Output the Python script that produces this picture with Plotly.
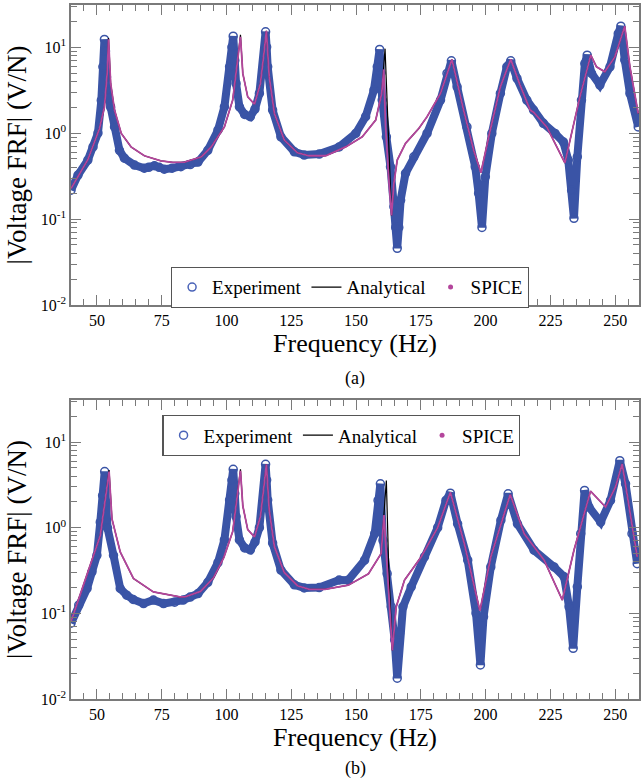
import plotly.graph_objects as go

# ---------------- data ----------------
# Panel (a)
exp_a_f = [40, 42.7, 46.5, 48.5, 50.4, 51.7, 52.3, 52.9, 53.3, 53.7, 54, 55.3, 56.8, 58.7, 60.6,
           64.5, 68.3, 70, 72.2, 74, 76, 79, 82.4, 86, 89, 92.8, 96.7, 99.2, 101.2, 102.1,
           102.6, 103.2, 103.7, 105, 107, 109.2, 111, 112.7, 114.4, 115.1, 115.5, 115.9, 117.8,
           121, 126.2, 130, 135.8, 143.5, 149.9, 153.7, 156.9, 158.2, 159.1, 159.6, 160.1,
           161.7, 163.3, 164.6, 165.3, 165.9, 166.5, 167.2, 169.1, 172.3, 177.4, 182.6, 185.1,
           186.8, 189, 192.8, 196, 197.3, 198.6, 199.9, 202.4, 205.7, 208.2, 209.7, 212.1,
           215.9, 218.5, 222.3, 226.8, 230, 231.9, 233.2, 234.1, 235.4, 237, 238.3, 239.2,
           240.9, 244.1, 248, 251.2, 252.2, 253.7, 255.7, 258.9]
exp_a_v = [0.217, 0.325, 0.485, 0.69, 1.0, 2.4, 5.9, 12.3, 9.0, 4.5, 3.16, 2.0, 1.18, 0.63, 0.51,
           0.425, 0.39, 0.40, 0.417, 0.40, 0.38, 0.39, 0.406, 0.43, 0.46, 0.63, 1.08, 2.02, 5.9, 10.0,
           13.4, 7.0, 3.78, 2.02, 1.65, 1.55, 1.9, 2.89, 7.07, 15.1, 10.0, 5.9, 1.85,
           0.906, 0.606, 0.555, 0.57, 0.69, 0.99, 1.55, 3.16, 5.9, 9.4, 5.0, 2.42,
           0.906, 0.405, 0.139, 0.08, 0.0457, 0.08, 0.166, 0.34, 0.53, 0.99, 2.42, 4.95,
           6.93, 3.45, 1.18, 0.405, 0.199, 0.08, 0.31, 0.99, 2.89, 5.9, 6.93, 4.33,
           2.42, 1.85, 1.30, 0.99, 0.79, 0.486, 0.217, 0.102, 0.53, 2.42, 6.45, 8.07,
           4.95, 3.62, 5.9, 14.4, 17.5, 7.07, 2.89, 1.18]

spice_a_f = [40, 46.5, 51, 51.65, 52.9, 53.96, 54.5, 55.3, 56.8, 59.4, 63.2, 68.3, 74.7, 79.3, 83.8,
             90.3, 94.1, 99.2, 102.4, 104.3, 105.4, 106.3, 108.2, 110.8, 113.1, 114.6, 115.4,
             116.5, 118.5, 122.3, 127.4, 131.9, 138.3, 146, 152.4, 157.6, 159.9, 160.7, 161.4,
             162.6, 163.7, 164.6, 165.9, 169.1, 174.2, 177.4, 182.6, 187, 191.5, 195.4, 198.2,
             201.2, 205.7, 209.7, 213.3, 217.2, 218.5, 223.6, 227.4, 230.6, 233.2, 236.4, 240.6,
             242.8, 246, 249.9, 252.4, 253.7, 255.7, 258.9]
spice_a_v = [0.227, 0.49, 1.13, 1.42, 2.0, 4.97, 12.3, 3.78, 1.85, 0.99, 0.69, 0.545, 0.476, 0.456, 0.46,
             0.53, 0.69, 1.18, 2.42, 7.07, 13.2, 4.95, 2.64, 2.17, 3.78, 9.2, 15.5,
             4.5, 1.69, 0.83, 0.59, 0.545, 0.545, 0.69, 0.906, 1.42, 2.89, 5.5, 1.2,
             0.3, 0.11, 0.26, 0.486, 0.76, 1.13, 1.55, 2.89, 7.2, 1.85, 0.63, 0.346,
             0.906, 3.45, 7.2, 3.62, 1.85, 1.75, 1.18, 0.69, 0.45, 1.0, 2.64, 8.07,
             5.9, 5.16, 7.7, 13.2, 17.5, 5.9, 1.69]

ana_a_f = [40, 46.5, 51, 51.65, 52.9, 53.96, 54.5, 55.3, 56.8, 59.4, 63.2, 68.3, 74.7, 79.3, 83.8,
           90.3, 94.1, 99.2, 102.4, 104.3, 105.4, 106.3, 108.2, 110.8, 113.1, 114.6, 115.4,
           116.5, 118.5, 122.3, 127.4, 131.9, 138.3, 146, 152.4, 157.6, 159.9, 161.2, 162.4,
           163.7, 164.6, 165.9, 169.1, 174.2, 177.4, 182.6, 187, 191.5, 195.4, 198.2, 201.2,
           205.7, 209.7, 213.3, 217.2, 218.5, 223.6, 227.4, 230.6, 233.2, 236.4, 240.6, 242.8,
           246, 249.9, 252.4, 253.7, 255.7, 258.9]
ana_a_v = [0.227, 0.49, 1.13, 1.42, 2.0, 4.97, 12.8, 3.78, 1.85, 0.99, 0.69, 0.545, 0.476, 0.456, 0.46,
           0.53, 0.69, 1.18, 2.42, 7.07, 13.9, 4.95, 2.64, 2.17, 3.78, 9.2, 15.5,
           4.5, 1.69, 0.83, 0.59, 0.545, 0.545, 0.69, 0.906, 1.42, 2.89, 9.6, 1.0,
           0.11, 0.26, 0.486, 0.76, 1.13, 1.55, 2.89, 7.2, 1.85, 0.63, 0.346, 0.906,
           3.45, 7.2, 3.62, 1.85, 1.75, 1.18, 0.69, 0.45, 1.0, 2.64, 8.07, 5.9,
           5.16, 7.7, 13.2, 17.5, 5.9, 1.69]

# Panel (b)
exp_b_f = [40, 43, 46.2, 48.1, 50, 51.3, 52.2, 53, 53.5, 54.1, 56.4, 59, 61.5, 64, 68, 71.8, 75.7,
           80, 83.3, 86, 89, 92.8, 96.7, 99.2, 101.2, 102.1, 102.6, 103.2, 103.7, 105, 107,
           109.2, 111, 112.7, 114.4, 115.1, 115.5, 115.9, 117.8, 121, 126.2, 130, 135.8, 143.5,
           147, 153.3, 157.2, 158.5, 159.4, 160.4, 162, 163.6, 164.9, 165.9, 166.8, 168.1,
           171.3, 176.4, 181.5, 184.7, 186.4, 189.2, 193.1, 196.3, 198, 199.2, 202, 205.9,
           208.7, 212.3, 218.7, 226.4, 230.3, 232.2, 233.8, 235.4, 236.7, 238.2, 239.9, 244.4,
           248.2, 251.8, 254, 256.5, 258.5]
exp_b_v = [0.0766, 0.125, 0.195, 0.305, 0.476, 1.16, 2.37, 4.52, 2.0, 0.99, 0.476, 0.195, 0.163,
           0.145, 0.13, 0.143, 0.13, 0.135, 0.143, 0.155, 0.17, 0.23, 0.39, 0.72, 2.1, 3.6, 4.8,
           2.5, 1.35, 0.72, 0.58, 0.55, 0.68, 1.0, 2.5, 5.5, 3.6, 2.1, 0.66, 0.32, 0.215, 0.198,
           0.2, 0.245, 0.244, 0.417, 0.85, 2.08, 3.25, 0.71, 0.29, 0.119, 0.049, 0.0175, 0.058,
           0.119, 0.204, 0.455, 1.0, 2.08, 2.53, 1.11, 0.417, 0.1, 0.025, 0.091, 0.348, 1.22,
           2.48, 1.11, 0.545, 0.348, 0.267, 0.119, 0.039, 0.204, 0.85, 2.72, 1.74, 1.16,
           2.08, 6.06, 3.25, 0.85, 0.38]

spice_b_f = [40, 51.3, 54.7, 55.8, 59, 64.1, 71.8, 82, 84, 90, 95, 99, 102.4, 104.3, 105.4, 106.3,
             108.2, 110.8, 113.1, 114.6, 115.4, 116.5, 118.5, 122.3, 127.4, 132, 138, 147, 154.8,
             159.7, 160.8, 161.5, 162.8, 164, 165.5, 168.7, 175.1, 181.5, 186.4, 191.8, 197.8,
             202, 209.5, 214.9, 222.6, 229.6, 234.1, 240.5, 246.3, 250.1, 252.7, 255.9, 258.5]
spice_b_v = [0.08, 0.81, 4.52, 1.27, 0.52, 0.255, 0.178, 0.156, 0.156, 0.18, 0.26, 0.45, 0.9, 2.5,
             4.6, 1.8, 0.95, 0.78, 1.35, 3.3, 5.5, 1.6, 0.6, 0.3, 0.21, 0.19, 0.19, 0.213, 0.29,
             0.5, 1.4, 0.6, 0.12, 0.037, 0.119, 0.244, 0.455, 1.0, 2.59, 0.65, 0.107,
             0.455, 2.44, 0.85, 0.417, 0.143, 0.545, 2.67, 1.74, 2.97, 5.55, 1.33, 0.455]

ana_b_f = [40, 51.3, 54.7, 55.8, 59, 64.1, 71.8, 82, 84, 90, 95, 99, 102.4, 104.3, 105.4, 106.3,
           108.2, 110.8, 113.1, 114.6, 115.4, 116.5, 118.5, 122.3, 127.4, 132, 138, 147, 154.8,
           159.7, 161.7, 162.6, 164, 165.5, 168.7, 175.1, 181.5, 186.4, 191.8, 197.8, 202,
           209.5, 214.9, 222.6, 229.6, 234.1, 240.5, 246.3, 250.1, 252.7, 255.9, 258.5]
ana_b_v = [0.08, 0.81, 4.7, 1.27, 0.52, 0.255, 0.178, 0.156, 0.156, 0.18, 0.26, 0.45, 0.9, 2.5,
           4.8, 1.8, 0.95, 0.78, 1.35, 3.3, 5.5, 1.6, 0.6, 0.3, 0.21, 0.19, 0.19, 0.213, 0.29,
           0.5, 3.55, 0.348, 0.037, 0.119, 0.244, 0.455, 1.0, 2.59, 0.65, 0.107, 0.455,
           2.44, 0.85, 0.417, 0.143, 0.545, 2.67, 1.74, 2.97, 5.55, 1.33, 0.455]

y_tickvals = [0.01, 0.1, 1, 10]
y_ticktext = ["10<sup>-2</sup>", "10<sup>-1</sup>", "10<sup>0</sup>", "10<sup>1</sup>"]
y_minorvals = [m * d for d in (0.01, 0.1, 1, 10) for m in range(2, 10)]
x_tickvals = [50, 75, 100, 125, 150, 175, 200, 225, 250]
x_minorvals = list(range(40, 261, 5))

BLUE = "#3a54a6"
BLUE_LEG = "#4a63b8"
MAGENTA = "#b4469c"
FONT = "serif"

fig = go.Figure()


def add_panel(xa, ya, leg, ef, ev, af, av, sf, sv):
    fig.add_trace(go.Scatter(x=ef, y=ev, mode="lines+markers", xaxis=xa, yaxis=ya,
                             line=dict(color=BLUE, width=8),
                             marker=dict(symbol="circle-open", size=8, color=BLUE,
                                         line=dict(width=1.5)),
                             showlegend=False, hoverinfo="skip"))
    fig.add_trace(go.Scatter(x=[None], y=[None], mode="markers", xaxis=xa, yaxis=ya,
                             marker=dict(symbol="circle-open", size=8, color=BLUE_LEG,
                                         line=dict(width=1.5)),
                             name="Experiment", legend=leg))
    fig.add_trace(go.Scatter(x=af, y=av, mode="lines", xaxis=xa, yaxis=ya,
                             line=dict(color="black", width=1.2),
                             name="Analytical", legend=leg))
    fig.add_trace(go.Scatter(x=sf, y=sv, mode="lines", xaxis=xa, yaxis=ya,
                             line=dict(color=MAGENTA, width=1.8),
                             showlegend=False))
    fig.add_trace(go.Scatter(x=[None], y=[None], mode="markers", xaxis=xa, yaxis=ya,
                             marker=dict(symbol="circle", size=5, color=MAGENTA),
                             name="SPICE", legend=leg))


add_panel("x", "y", "legend", exp_a_f, exp_a_v, ana_a_f, ana_a_v, spice_a_f, spice_a_v)
add_panel("x2", "y2", "legend2", exp_b_f, exp_b_v, ana_b_f, ana_b_v, spice_b_f, spice_b_v)

AXCOL = "#7a7a7a"
xcommon = dict(range=[40, 259.2], tickmode="array", tickvals=x_tickvals, ticks="inside",
               ticklen=10, tickwidth=1.3, tickcolor=AXCOL, showline=True, linecolor=AXCOL,
               linewidth=1.5, mirror="ticks", showgrid=False, zeroline=False,
               minor=dict(ticks="inside", ticklen=6, tickmode="array", tickvals=x_minorvals,
                          tickcolor=AXCOL, tickwidth=1.2, showgrid=False),
               tickfont=dict(family=FONT, size=16, color="black"),
               title=dict(text="Frequency (Hz)", font=dict(family=FONT, size=26, color="black"),
                          standoff=3))
ycommon = dict(type="log", range=[-2, 1.49], tickmode="array", tickvals=y_tickvals,
               ticktext=y_ticktext, ticks="inside", ticklen=10, tickwidth=1.3, tickcolor=AXCOL,
               showline=True, linecolor=AXCOL, linewidth=1.5, mirror="ticks", showgrid=False,
               zeroline=False,
               minor=dict(ticks="inside", ticklen=6, tickmode="array", tickvals=y_minorvals,
                          tickcolor=AXCOL, tickwidth=1.2, showgrid=False),
               tickfont=dict(family=FONT, size=16, color="black"),
               title=dict(text="|Voltage FRF| (V/N)", font=dict(family=FONT, size=27, color="black"),
                          standoff=6))

leg_common = dict(orientation="h", bgcolor="white", bordercolor="#555555", borderwidth=1.2,
                  font=dict(family=FONT, size=19, color="black"), xanchor="center",
                  yanchor="top", itemwidth=30, tracegroupgap=0)

fig.update_layout(
    width=641, height=782,
    margin=dict(l=71, r=0, t=5, b=83),
    paper_bgcolor="white", plot_bgcolor="white",
    font=dict(family=FONT, color="black"),
    xaxis=dict(domain=[0, 1], anchor="y", **xcommon),
    yaxis=dict(domain=[0.5677, 1], anchor="x", **ycommon),
    xaxis2=dict(domain=[0, 1], anchor="y2", **xcommon),
    yaxis2=dict(domain=[0, 0.4308], anchor="x2", **ycommon),
    legend=dict(x=0.491, y=0.6225, **leg_common),
    legend2=dict(x=0.476, y=0.409, **leg_common),
    annotations=[
        dict(text="(a)", x=0.5, y=0.4625, xref="paper", yref="paper", showarrow=False,
             yanchor="middle", font=dict(family=FONT, size=18, color="black")),
        dict(text="(b)", x=0.5, y=-0.1, xref="paper", yref="paper", showarrow=False,
             yanchor="middle", font=dict(family=FONT, size=18, color="black")),
    ],
)

fig.write_html("out.html", config={"displayModeBar": False})

# remove the default 8px page margin so the figure sits at the window's corner
with open("out.html", encoding="utf-8") as fh:
    html = fh.read()
html = html.replace("<head>", "<head><style>html,body{margin:0;padding:0;overflow:hidden;}</style>", 1)
with open("out.html", "w", encoding="utf-8") as fh:
    fh.write(html)
